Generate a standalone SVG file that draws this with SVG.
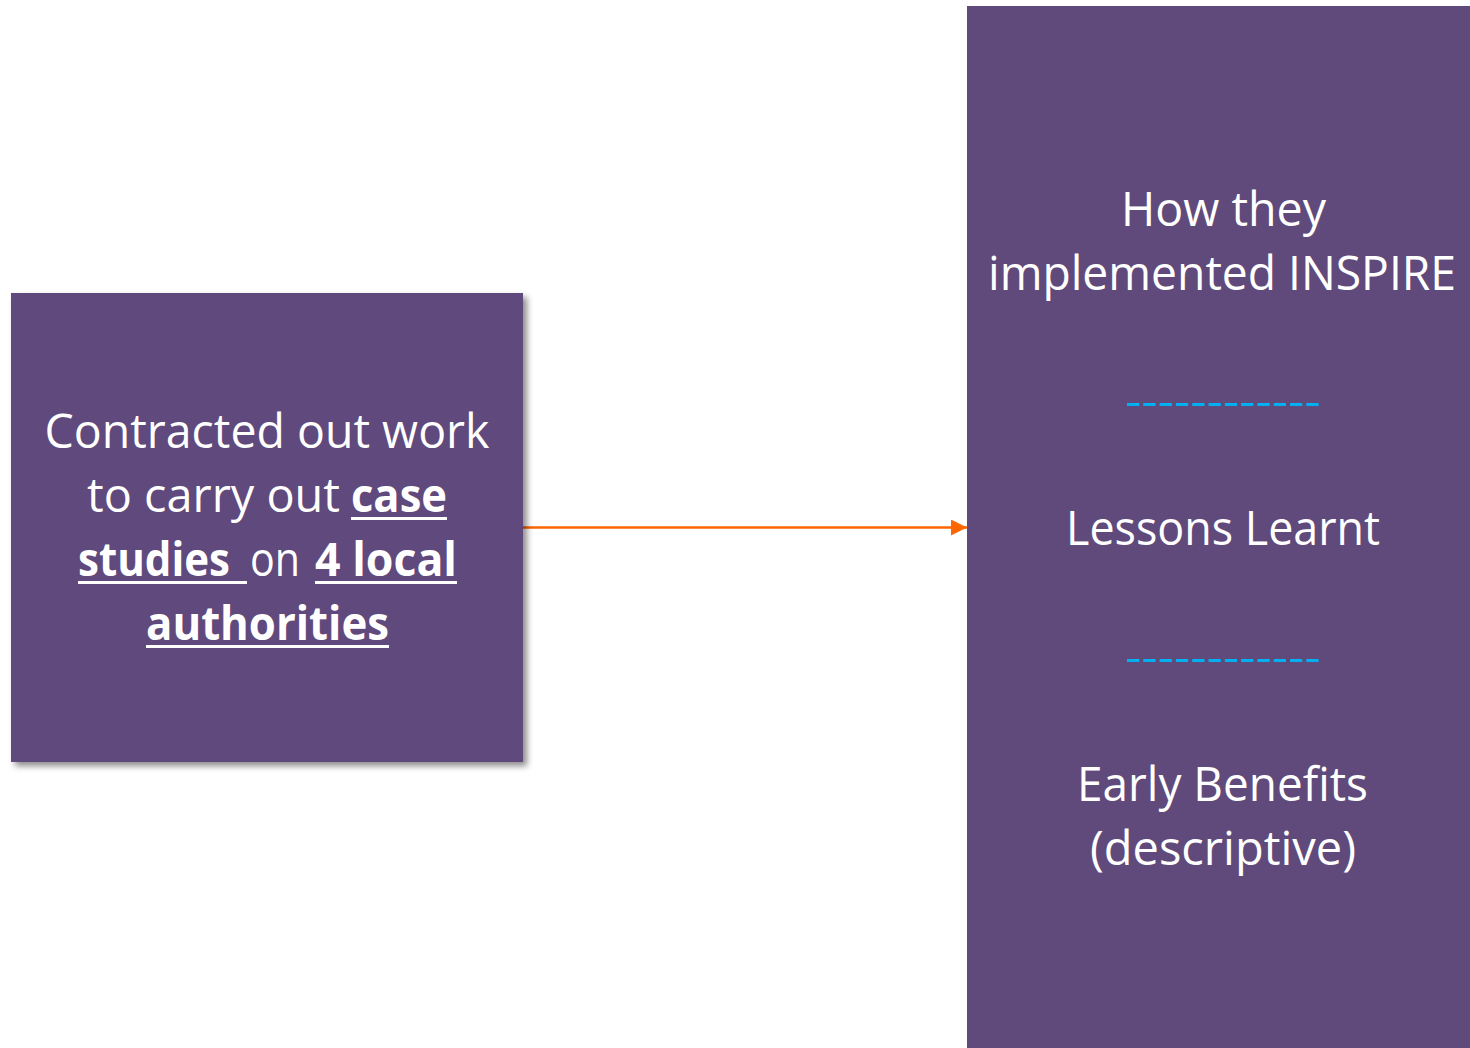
<svg xmlns="http://www.w3.org/2000/svg" width="1470" height="1048" viewBox="0 0 1470 1048">
<style>
.box{fill:#604A7B}
.t{font-family:"Open Sans","Noto Sans","Liberation Sans",sans-serif;font-size:47px;fill:#FFFFFF;text-anchor:middle}
.s{text-anchor:start}
.b{font-weight:bold}
.ul{stroke:#FFFFFF;stroke-width:3;fill:none}
.sep{stroke:#00B0F0;stroke-width:3;stroke-dasharray:12.3 4;fill:none}
.conn{stroke:#FF6600;stroke-width:2.6;fill:none}
</style>
<defs>
<filter id="sh" x="-10%" y="-10%" width="130%" height="130%">
<feDropShadow dx="4" dy="4" stdDeviation="3" flood-color="#000" flood-opacity="0.45"/>
</filter>
<marker id="ah" markerUnits="userSpaceOnUse" markerWidth="16" markerHeight="16" refX="16" refY="8" orient="auto">
<polygon points="0,0 16,8 0,16" fill="#FF6600"/>
</marker>
</defs>
<rect width="1470" height="1048" fill="#FFFFFF"/>
<g id="connectors">
<line class="conn" x1="523" y1="527.5" x2="967" y2="527.5" marker-end="url(#ah)"/>
</g>
<g id="node-left">
<rect class="box" x="11" y="293" width="512" height="469" filter="url(#sh)"/>
<text class="t" x="267" y="448" textLength="445" lengthAdjust="spacingAndGlyphs">Contracted out work</text>
<text class="t s" x="87" y="512" textLength="253" lengthAdjust="spacingAndGlyphs">to carry out</text>
<text class="t s b" x="351" y="512" textLength="96" lengthAdjust="spacingAndGlyphs">case</text>
<text class="t s b" x="78" y="576" textLength="152" lengthAdjust="spacingAndGlyphs">studies</text>
<text class="t s" x="250" y="576" textLength="50" lengthAdjust="spacingAndGlyphs">on</text>
<text class="t s b" x="315" y="576" textLength="142" lengthAdjust="spacingAndGlyphs">4 local</text>
<text class="t b" x="267.5" y="640" textLength="243" lengthAdjust="spacingAndGlyphs">authorities</text>
<line class="ul" x1="351" y1="518.5" x2="447" y2="518.5"/>
<line class="ul" x1="78" y1="582.5" x2="247" y2="582.5"/>
<line class="ul" x1="315" y1="582.5" x2="457" y2="582.5"/>
<line class="ul" x1="146" y1="646.5" x2="389" y2="646.5"/>
</g>
<g id="node-right">
<rect class="box" x="967" y="6" width="503" height="1042"/>
<text class="t" x="1223.5" y="226" textLength="205" lengthAdjust="spacingAndGlyphs">How they</text>
<text class="t" x="1222" y="290" textLength="468" lengthAdjust="spacingAndGlyphs">implemented INSPIRE</text>
<line class="sep" x1="1127" y1="404.5" x2="1319" y2="404.5"/>
<text class="t" x="1223" y="545" textLength="314" lengthAdjust="spacingAndGlyphs">Lessons Learnt</text>
<line class="sep" x1="1127" y1="660.5" x2="1319" y2="660.5"/>
<text class="t" x="1222.5" y="801" textLength="291" lengthAdjust="spacingAndGlyphs">Early Benefits</text>
<text class="t" x="1223" y="865" textLength="266" lengthAdjust="spacingAndGlyphs">(descriptive)</text>
</g>
</svg>
